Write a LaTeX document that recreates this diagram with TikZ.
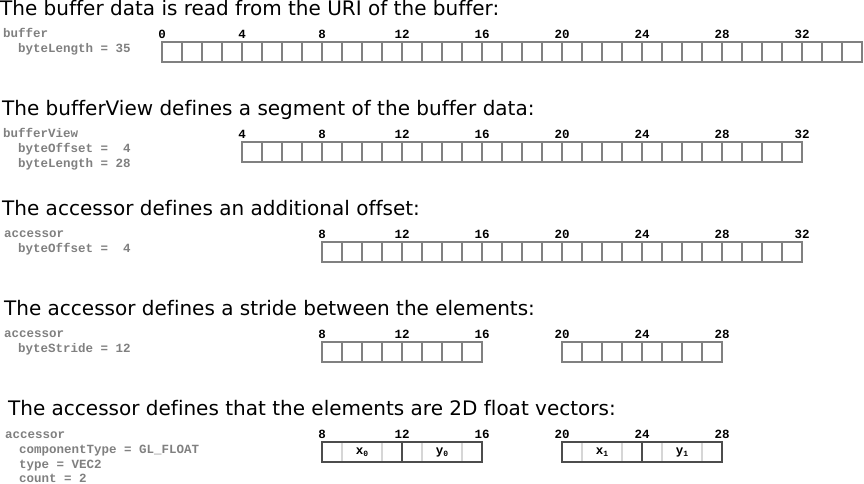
\documentclass[tikz,border=0pt]{standalone}
\usepackage{fontspec}
\setmainfont{DejaVu Sans}[Ligatures=CommonOff]
\newfontfamily\codefont{Liberation Mono}
\definecolor{codegray}{gray}{0.5}
\definecolor{cellgray}{gray}{0.5}
\definecolor{elemdark}{gray}{0.3}
\definecolor{elemlight}{gray}{0.84}
\tikzset{
  title/.style={anchor=base west, inner sep=0pt, font=\fontsize{20}{24}\selectfont},
  code/.style={anchor=base west, inner sep=0pt, text=codegray, font=\codefont\bfseries\fontsize{12.5}{15}\selectfont},
  offset/.style={anchor=base, inner sep=0pt, font=\codefont\bfseries\fontsize{12.5}{15}\selectfont},
  elem/.style={inner sep=0pt, font=\codefont\bfseries\fontsize{12.5}{15}\selectfont},
  cell/.style={draw=cellgray, line width=2pt},
}
% one box per byte: first byte, number of bytes, top
\newcommand{\bytecells}[3]{%
  \foreach \i in {1,...,#2}
    \draw[cell] ({162+20*(#1+\i-1)},#3) rectangle ++(20,20);}
% one float of four bytes: first byte, top, name, label
\newcommand{\floatelem}[4]{%
  \draw[elemlight, line width=1.5pt] ({162+20*(#1+1)},#2) -- ++(0,20)
    ({162+20*(#1+3)},#2) -- ++(0,20);
  \node[elem] (#3) at ({162+20*(#1+2)},#2+10) {#4};
  \draw[elemdark, line width=2pt] ({162+20*#1},#2) rectangle ++(80,20);}
\newcommand{\sub}[1]{\raisebox{-2pt}{\fontsize{8}{8}\selectfont #1}}
\begin{document}
\begin{tikzpicture}[x=1pt, y=-1pt]
		\useasboundingbox (0,0) rectangle (864,483);
		
		% buffer
		\node[title] (t1) at (0,15.5) {The buffer data is read from the URI of the buffer:};
		\node[code] (c1a) at (3,37) {buffer};
		\node[code] (c1b) at (18,52) {byteLength = 35};
		\foreach \n in {0,4,...,32}
		\node[offset] (o1-\n) at ({162+20*\n},38) {\n};
		\bytecells{0}{35}{42}
		
		% bufferView
		\node[title] (t2) at (2,115.5) {The bufferView defines a segment of the buffer data:};
		\node[code] (c2a) at (3,137) {bufferView};
		\node[code] (c2b) at (18,152) {byteOffset =\ \ 4};
		\node[code] (c2c) at (18,167) {byteLength = 28};
		\foreach \n in {4,8,...,32}
		\node[offset] (o2-\n) at ({162+20*\n},138) {\n};
		\bytecells{4}{28}{142}
		
		% accessor offset
		\node[title] (t3) at (2,215.5) {The accessor defines an additional offset:};
		\node[code] (c3a) at (4,237) {accessor};
		\node[code] (c3b) at (18,252) {byteOffset =\ \ 4};
		\foreach \n in {8,12,...,32}
		\node[offset] (o3-\n) at ({162+20*\n},238) {\n};
		\bytecells{8}{24}{242}
		
		% accessor stride
		\node[title] (t4) at (4,315.5) {The accessor defines a stride between the elements:};
		\node[code] (c4a) at (4,337) {accessor};
		\node[code] (c4b) at (18,352) {byteStride = 12};
		\foreach \n in {8,12,16,20,24,28}
		\node[offset] (o4-\n) at ({162+20*\n},338) {\n};
		\bytecells{8}{8}{342}
		\bytecells{20}{8}{342}
		
		% accessor elements
		\node[title] (t5) at (8,415.5) {The accessor defines that the elements are 2D float vectors:};
		\node[code] (c5a) at (5,438) {accessor};
		\node[code] (c5b) at (19,453) {componentType = GL\_FLOAT};
		\node[code] (c5c) at (19,468) {type = VEC2};
		\node[code] (c5d) at (19,482) {count = 2};
		\foreach \n in {8,12,16,20,24,28}
		\node[offset] (o5-\n) at ({162+20*\n},438) {\n};
		\floatelem{8}{442}{x0}{x\sub{0}}
		\floatelem{12}{442}{y0}{y\sub{0}}
		\floatelem{20}{442}{x1}{x\sub{1}}
		\floatelem{24}{442}{y1}{y\sub{1}}
\end{tikzpicture}
\end{document}
